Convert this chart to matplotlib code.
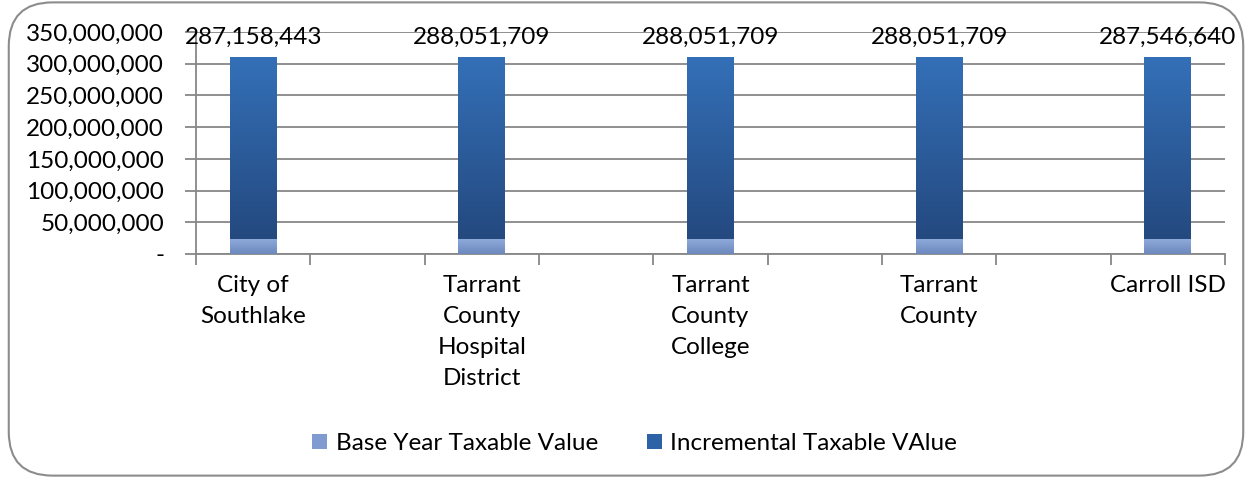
import numpy as np
import matplotlib
matplotlib.use("Agg")
import matplotlib.pyplot as plt
from matplotlib.patches import FancyBboxPatch, Patch
from matplotlib.colors import LinearSegmentedColormap
from matplotlib.ticker import FuncFormatter, MultipleLocator

# 数据
categories = ["City of\nSouthlake", "Tarrant\nCounty\nHospital\nDistrict",
              "Tarrant\nCounty\nCollege", "Tarrant\nCounty", "Carroll ISD"]
base_values = [23000000, 23000000, 23000000, 23000000, 23000000]
incremental_values = [287158443, 288051709, 288051709, 288051709, 287546640]
series_names = ["Base Year Taxable Value", "Incremental Taxable VAlue"]
title_text = "Value by Taxing Entity"

plt.rcParams['font.family'] = ['Lato', 'DejaVu Sans']
grid_color = '#878787'
fs = 17.5

fig = plt.figure(figsize=(12.52, 4.78), dpi=100)

# 圆角外框
frame = FancyBboxPatch((0.007, 0.005), 0.986, 0.99, boxstyle="round,pad=0,rounding_size=0.035",
                       transform=fig.transFigure, fill=False, edgecolor='#8c8c8c', lw=1.5,
                       mutation_aspect=1252 / 478)
fig.patches.append(frame)

ax = fig.add_axes([196 / 1252, 1 - 254 / 478, (1225 - 196) / 1252, (254 - 32) / 478])

x = np.arange(len(categories)) * 2
width = 0.41

bars_base = ax.bar(x, base_values, width, color='#7f9bcf', zorder=3)
bars_inc = ax.bar(x, incremental_values, width, bottom=base_values, color='#2d63a6', zorder=3)

# 渐变填充
cmap_inc = LinearSegmentedColormap.from_list('inc', ['#24497f', '#3470b8'])
cmap_base = LinearSegmentedColormap.from_list('base', ['#6c88bc', '#8eaadb'])
grad = np.linspace(0, 1, 256).reshape(-1, 1)
for bars, cmap in [(bars_base, cmap_base), (bars_inc, cmap_inc)]:
    for b in bars:
        x0, y0 = b.get_x(), b.get_y()
        im = ax.imshow(grad, cmap=cmap, aspect='auto', origin='lower', zorder=4,
                       extent=[x0, x0 + b.get_width(), y0, y0 + b.get_height()])
        im.set_clip_path(b)

# 数据标签
for xi, b0, inc in zip(x, base_values, incremental_values):
    ax.annotate(f"{inc:,}", (xi, b0 + inc), xytext=(0, 14), textcoords='offset points',
                ha='center', va='center', fontsize=fs, zorder=6)

ax.set_xlim(-0.5, 2 * len(categories) - 1.5)
ax.set_ylim(0, 350000000)
ax.yaxis.set_major_locator(MultipleLocator(50000000))
ax.yaxis.set_major_formatter(FuncFormatter(lambda v, p: '-' if v == 0 else f"{v:,.0f}"))
ax.grid(axis='y', color=grid_color, lw=1.3, zorder=0)
ax.set_axisbelow(True)

ax.set_xticks(x)
ax.set_xticklabels(categories, fontsize=fs, linespacing=1.6, va='top')
ax.set_xticks(np.arange(-0.5, 2 * len(categories) - 1, 1), minor=True)
ax.tick_params(axis='x', which='major', length=0, pad=15)
ax.tick_params(axis='x', which='minor', length=8, width=1.3, color=grid_color)
ax.tick_params(axis='y', length=8, width=1.3, color=grid_color, labelsize=fs, pad=15)

for s in ['top', 'right']:
    ax.spines[s].set_visible(False)
for s in ['left', 'bottom']:
    ax.spines[s].set_color(grid_color)
    ax.spines[s].set_linewidth(1.3)

# 标题（被裁切）
fig.text(0.507, 1.028, title_text, ha='center', va='center', fontsize=18, fontweight='bold')

handles = [Patch(facecolor='#7f9bcf'), Patch(facecolor='#2d63a6')]
fig.legend(handles, series_names, loc='center', bbox_to_anchor=(0.507, 0.072), ncol=2,
           frameon=False, fontsize=fs, handlelength=0.62, handleheight=0.62,
           handletextpad=0.35, columnspacing=2.0)

fig.savefig('out.png', dpi=100)
